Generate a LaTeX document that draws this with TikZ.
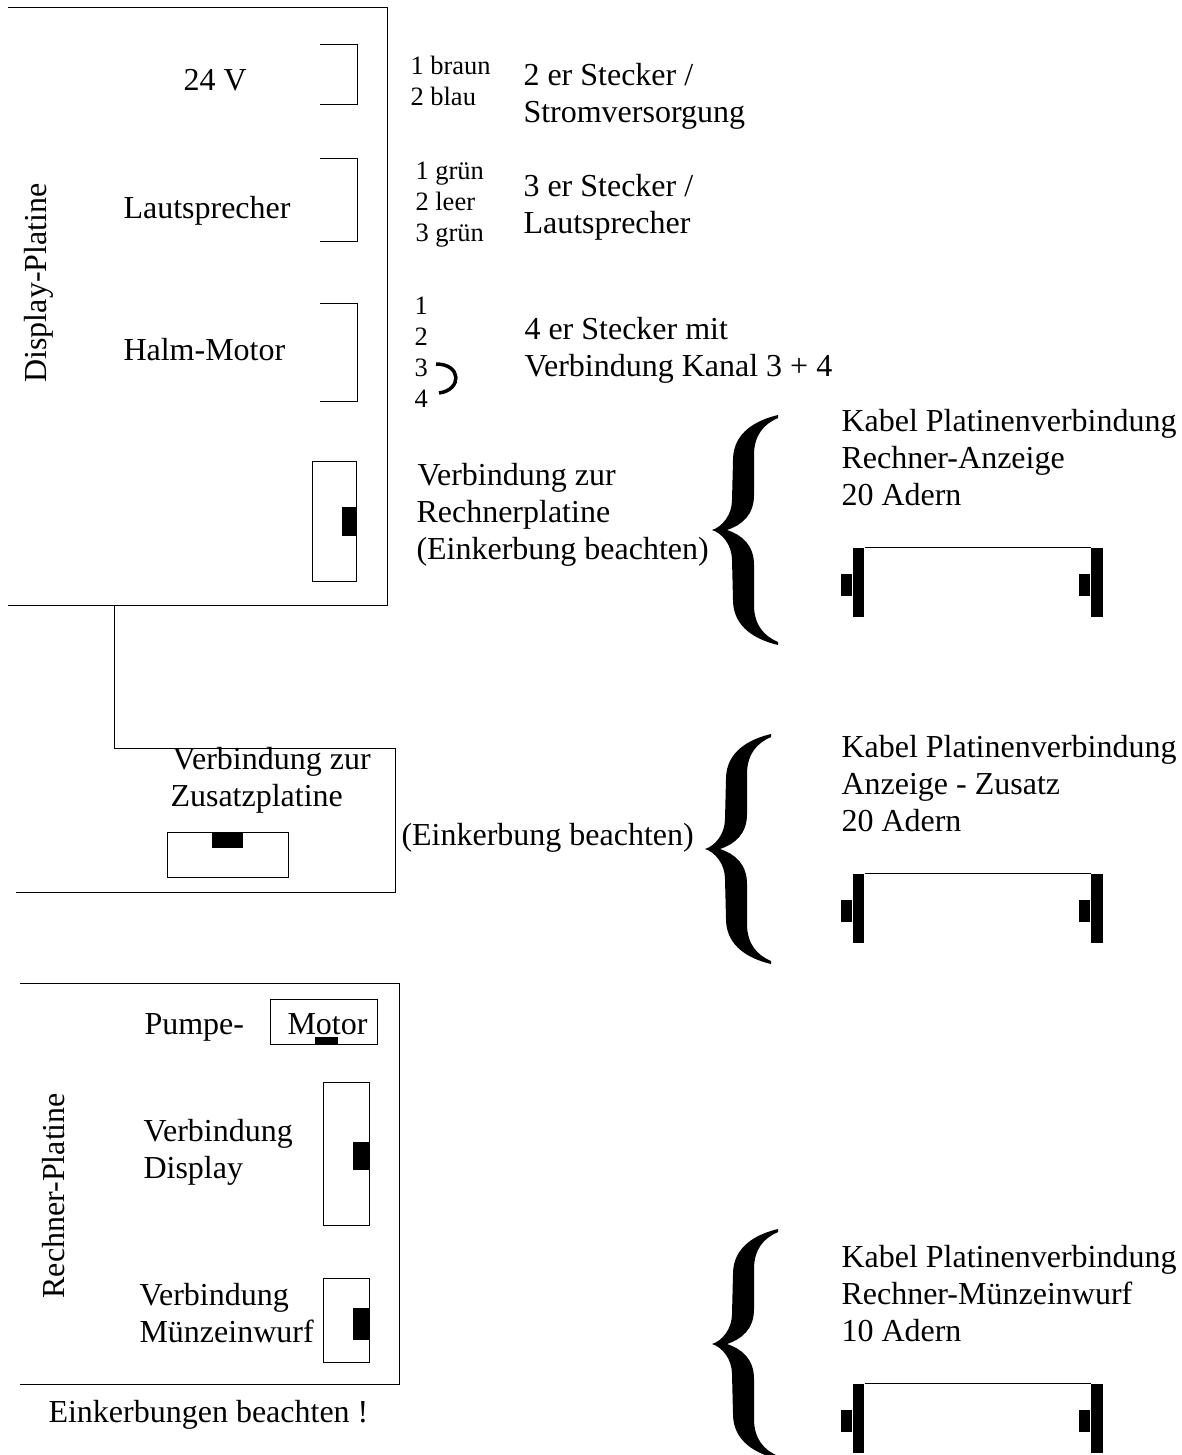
\documentclass[tikz,border=0pt]{standalone}
\usepackage{fontspec}
\setmainfont{Liberation Serif}
\usetikzlibrary{positioning}

\tikzset{
  klammer/.pic={
    \fill (66,-115) .. controls (45,-110) and (21,-98) .. (21,-70)
      -- (20,-30)
      .. controls (20,-15) and (10,-3) .. (0,0)
      .. controls (10,3) and (20,15) .. (20,30)
      -- (21,70)
      .. controls (21,98) and (45,110) .. (66,115)
      -- (66,112)
      .. controls (52,106) and (42,95) .. (42,75)
      -- (42,35)
      .. controls (42,15) and (30,5) .. (15,0)
      .. controls (30,-5) and (42,-15) .. (42,-35)
      -- (42,-75)
      .. controls (42,-95) and (52,-106) .. (66,-112)
      -- cycle;
  }
}

\begin{document}
\begin{tikzpicture}[x=1pt, y=-1pt, line width=1pt,
    txt/.style={font=\fontsize{32}{37}\selectfont, inner sep=0pt, anchor=base west, align=left, yshift=-1pt},
    smalltxt/.style={font=\fontsize{26.5}{31}\selectfont, inner sep=0pt, anchor=base west, align=left, yshift=-1pt},
    buchse/.style={draw, inner sep=0pt},
    kerbe/.style={fill=black, inner sep=0pt},
    steg/.style={fill=black, inner sep=0pt, minimum width=11.5pt, minimum height=69pt, anchor=north west},
    nase/.style={fill=black, inner sep=0pt, minimum width=11pt, minimum height=22pt}]
  \useasboundingbox (0,0) rectangle (1181,1455);

  % Display-Platine
  \draw (8,8) -- (387,8) -- (387,605) -- (8,605);
  \draw (320,45) -- (357,45) -- (357,105) -- (320,105);
  \draw (320,159) -- (357,159) -- (357,242) -- (320,242);
  \draw (320,303) -- (357,303) -- (357,401) -- (320,401);
  \node[txt, rotate=90] (dispname) at (46,382) {Display-Platine};
  \node[txt] (volt) at (183,90) {24 V};
  \node[txt] (laut) at (123,218) {Lautsprecher};
  \node[txt] (halm) at (123,359) {Halm-Motor};
  \node[buchse, minimum width=44pt, minimum height=120pt] (dispbuchse) at (334,521) {};
  \node[kerbe, minimum width=14pt, minimum height=29pt, anchor=east] (dispkerbe) at (dispbuchse.east) {};

  % Stecker
  \node[smalltxt] (st2farben) at (410,104.5) {1 braun\\2 blau};
  \node[smalltxt] (st3farben) at (415,240.5) {1 grün\\2 leer\\3 grün};
  \node[smalltxt] (st4kanal) at (414,406.5) {1\\2\\3\\4};
  \draw[line width=3.5pt] (436,364) .. controls (462,364) and (462,390) .. (439,393);
  \node[txt] (st2) at (523,122) {2 er Stecker /\\Stromversorgung};
  \node[txt] (st3) at (523,233) {3 er Stecker /\\Lautsprecher};
  \node[txt] (st4) at (524,375.5) {4 er Stecker mit\\Verbindung Kanal 3 + 4};
  \node[txt] (rechverb) at (416,558.5) {\hspace{1pt}Verbindung zur\\Rechnerplatine\\(Einkerbung beachten)};

  % Zusatzplatine
  \draw (114,605) -- (114,748) -- (395,748) -- (395,892) -- (16,892);
  \node[txt] (zusatz) at (170,805) {\hspace{2pt}Verbindung zur\\Zusatzplatine};
  \node[buchse, minimum width=121pt, minimum height=45pt] (zusbuchse) at (227.5,854.5) {};
  \node[kerbe, minimum width=31pt, minimum height=16pt, anchor=north] (zuskerbe) at (zusbuchse.north) {};
  \node[txt] (zusnote) at (401,844) {(Einkerbung beachten)};

  % Rechner-Platine
  \draw (20,983) -- (399,983) -- (399,1384) -- (20,1384);
  \node[txt, rotate=90] (rechname) at (64,1298) {Rechner-Platine};
  \node[buchse, minimum width=107pt, minimum height=45pt] (motbuchse) at (323.5,1021.5) {};
  \node[kerbe, minimum width=23pt, minimum height=7pt, anchor=south] (motkerbe) at ([xshift=3pt]motbuchse.south) {};
  \node[txt] (pumpe) at (144,1033) {Pumpe-};
  \node[txt] (motor) at (287,1033) {Motor};
  \node[buchse, minimum width=46pt, minimum height=143pt] (rdbuchse) at (346,1153.5) {};
  \node[kerbe, minimum width=16pt, minimum height=28pt, anchor=east] (rdkerbe) at ([yshift=-2pt]rdbuchse.east) {};
  \node[txt] (rdtext) at (143,1177) {Verbindung\\Display};
  \node[buchse, minimum width=46pt, minimum height=84pt] (rmbuchse) at (346,1320) {};
  \node[kerbe, minimum width=16pt, minimum height=32pt, anchor=east] (rmkerbe) at ([yshift=-4pt]rmbuchse.east) {};
  \node[txt] (rmtext) at (139,1341) {Verbindung\\Münzeinwurf};
  \node[txt] (rechnote) at (48,1421) {Einkerbungen beachten !};

  % Kabel
  \pic at (712,530) {klammer};
  \pic at (705,849) {klammer};
  \pic at (712,1344) {klammer};
  \node[txt] (kabel1) at (841,504) {Kabel Platinenverbindung\\Rechner-Anzeige\\20 Adern};
  \node[txt] (kabel2) at (841,830) {Kabel Platinenverbindung\\Anzeige - Zusatz\\20 Adern};
  \node[txt] (kabel3) at (841,1340) {Kabel Platinenverbindung\\Rechner-Münzeinwurf\\10 Adern};
  \foreach \y/\nr in {547.5/1,873.5/2,1383.5/3} {
    \node[steg] (stegl\nr) at (852,\y) {};
    \node[steg] (stegr\nr) at (1090.5,\y) {};
    \node[nase, anchor=east] (nasel\nr) at ([yshift=-2.5pt]stegl\nr.west) {};
    \node[nase, anchor=east] (naser\nr) at ([yshift=-2.5pt]stegr\nr.west) {};
    \draw (stegl\nr.north east) -- (stegr\nr.north west);
  }
\end{tikzpicture}
\end{document}
